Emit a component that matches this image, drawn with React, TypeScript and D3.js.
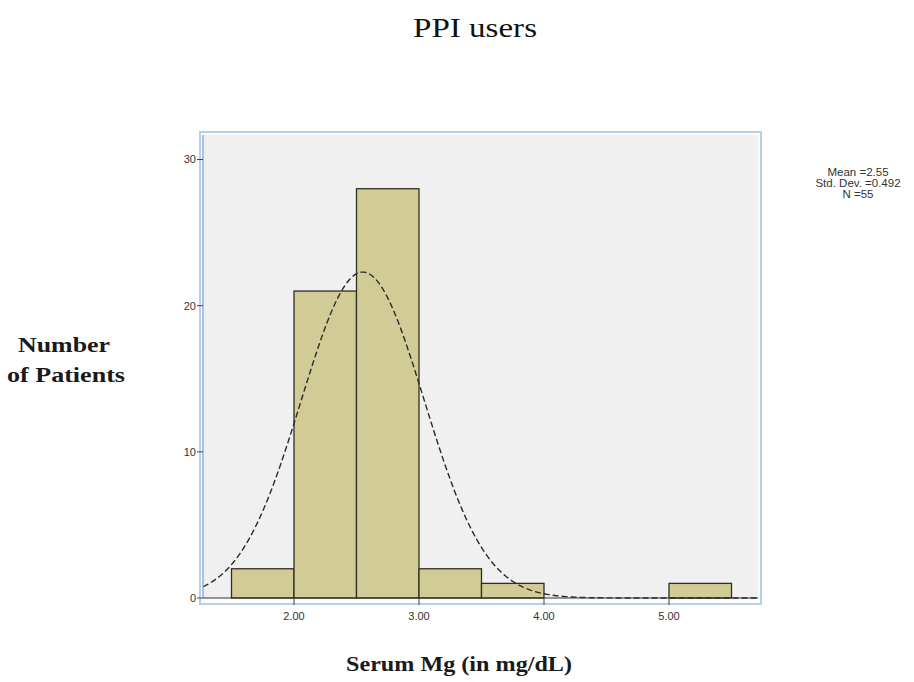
import React, { useEffect, useRef } from "react";
import * as d3 from "d3";

// histogram bins (lower edge, upper edge, count)
const binStarts = [1.5, 2.0, 2.5, 3.0, 3.5, 5.0];
const binEnds = [2.0, 2.5, 3.0, 3.5, 4.0, 5.5];
const binCounts = [2, 21, 28, 2, 1, 1];

const xTicks = [2, 3, 4, 5];
const xTickLabels = ["2.00", "3.00", "4.00", "5.00"];
const yTicks = [0, 10, 20, 30];

const statsLines = ["Mean =2.55", "Std. Dev. =0.492", "N =55"];
const mean = 2.55;
const sd = 0.492;
const n = 55;
const binWidth = 0.5;

const W = 914;
const H = 682;

export default function App() {
  const svgRef = useRef<SVGSVGElement>(null);

  useEffect(() => {
    const svg = d3.select(svgRef.current);
    svg.selectChildren().remove();

    const plot = { left: 203, right: 758, top: 135, bottom: 598 };

    const x = d3.scaleLinear().domain([2, 5]).range([294, 669]);
    const y = d3.scaleLinear().domain([0, 30]).range([598, 159.5]);

    // outer light blue frame
    svg
      .append("rect")
      .attr("x", 200)
      .attr("y", 132)
      .attr("width", 561)
      .attr("height", 472)
      .attr("fill", "#fafcfe")
      .attr("stroke", "#b6d0ea")
      .attr("stroke-width", 2);

    svg
      .append("rect")
      .attr("x", plot.left)
      .attr("y", plot.top)
      .attr("width", plot.right - plot.left)
      .attr("height", plot.bottom - plot.top)
      .attr("fill", "#f0f0f1");

    const bins = binCounts.map((c, i) => ({ x0: binStarts[i], x1: binEnds[i], c }));

    svg
      .append("g")
      .selectAll("rect")
      .data(bins)
      .enter()
      .append("rect")
      .attr("x", (d) => x(d.x0))
      .attr("y", (d) => y(d.c))
      .attr("width", (d) => x(d.x1) - x(d.x0))
      .attr("height", (d) => y(0) - y(d.c))
      .attr("fill", "#d1cc96")
      .attr("stroke", "#2e2e22")
      .attr("stroke-width", 1.3);

    // normal curve from the reported mean / sd / N
    const x0 = x.invert(plot.left);
    const x1 = x.invert(plot.right);
    const pts = d3.range(0, 301).map((i) => {
      const v = x0 + ((x1 - x0) * i) / 300;
      const z = (v - mean) / sd;
      const f = (n * binWidth * Math.exp(-0.5 * z * z)) / (sd * Math.sqrt(2 * Math.PI));
      return [x(v), y(f)] as [number, number];
    });
    svg
      .append("path")
      .attr("d", d3.line()(pts))
      .attr("fill", "none")
      .attr("stroke", "#2a2a2a")
      .attr("stroke-width", 1.4)
      .attr("stroke-dasharray", "6,3");

    // axes
    svg
      .append("line")
      .attr("x1", plot.left)
      .attr("x2", plot.left)
      .attr("y1", plot.top)
      .attr("y2", plot.bottom)
      .attr("stroke", "#8fb2d6")
      .attr("stroke-width", 1.5);
    svg
      .append("line")
      .attr("x1", plot.left)
      .attr("x2", plot.right)
      .attr("y1", plot.bottom)
      .attr("y2", plot.bottom)
      .attr("stroke", "#333")
      .attr("stroke-width", 1);

    const yAxis = svg.append("g");
    yTicks.forEach((t) => {
      yAxis
        .append("line")
        .attr("x1", plot.left - 6)
        .attr("x2", plot.left)
        .attr("y1", y(t))
        .attr("y2", y(t))
        .attr("stroke", "#444");
      yAxis
        .append("text")
        .attr("x", plot.left - 7)
        .attr("y", y(t))
        .attr("dy", "0.35em")
        .attr("text-anchor", "end")
        .attr("font-family", "Liberation Sans, Arial, sans-serif")
        .attr("font-size", 11)
        .attr("fill", "#333")
        .text(String(t));
    });

    const xAxis = svg.append("g");
    xTicks.forEach((t, i) => {
      xAxis
        .append("line")
        .attr("x1", x(t))
        .attr("x2", x(t))
        .attr("y1", plot.bottom)
        .attr("y2", plot.bottom + 7)
        .attr("stroke", "#444");
      xAxis
        .append("text")
        .attr("x", x(t))
        .attr("y", plot.bottom + 22)
        .attr("text-anchor", "middle")
        .attr("font-family", "Liberation Sans, Arial, sans-serif")
        .attr("font-size", 11)
        .attr("fill", "#333")
        .text(xTickLabels[i]);
    });

    // stats box text
    statsLines.forEach((s, i) => {
      svg
        .append("text")
        .attr("x", 858)
        .attr("y", 176 + i * 11)
        .attr("text-anchor", "middle")
        .attr("font-family", "Liberation Sans, Arial, sans-serif")
        .attr("font-size", 11.5)
        .attr("fill", "#333")
        .text(s);
    });

    // titles (widths stretched to match the scanned lettering)
    svg
      .append("text")
      .attr("x", 413)
      .attr("y", 37)
      .attr("font-family", "Liberation Serif, Times New Roman, serif")
      .attr("font-size", 27)
      .attr("textLength", 124)
      .attr("lengthAdjust", "spacingAndGlyphs")
      .attr("fill", "#111")
      .text("PPI users");

    svg
      .append("text")
      .attr("x", 346)
      .attr("y", 671)
      .attr("font-family", "Liberation Serif, Times New Roman, serif")
      .attr("font-weight", "bold")
      .attr("font-size", 22)
      .attr("textLength", 226)
      .attr("lengthAdjust", "spacingAndGlyphs")
      .attr("fill", "#1a1a1a")
      .text("Serum Mg (in mg/dL)");

    const yLab = [
      { s: "Number", x: 18, y: 352, w: 92 },
      { s: "of Patients", x: 7, y: 382, w: 118 },
    ];
    yLab.forEach((d) => {
      svg
        .append("text")
        .attr("x", d.x)
        .attr("y", d.y)
        .attr("font-family", "Liberation Serif, Times New Roman, serif")
        .attr("font-weight", "bold")
        .attr("font-size", 21)
        .attr("textLength", d.w)
        .attr("lengthAdjust", "spacingAndGlyphs")
        .attr("fill", "#1a1a1a")
        .text(d.s);
    });
  }, []);

  return (
    <svg
      ref={svgRef}
      width={W}
      height={H}
      style={{ position: "absolute", left: 0, top: 0, background: "#fff" }}
    />
  );
}
